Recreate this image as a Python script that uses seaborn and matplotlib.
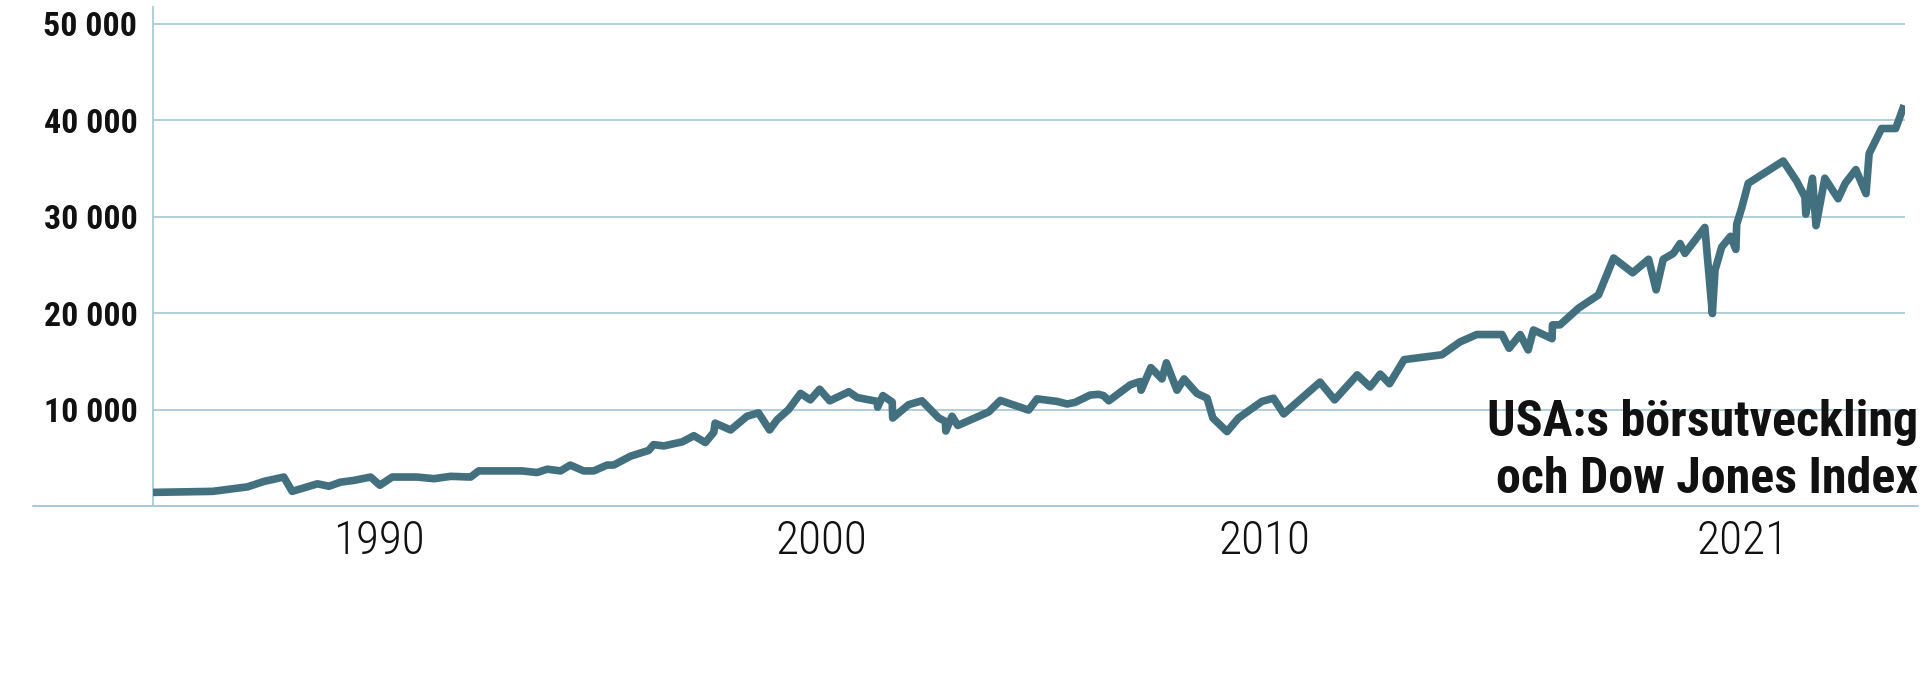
import os
import matplotlib
matplotlib.use("Agg")
import matplotlib.pyplot as plt
from matplotlib import font_manager
from matplotlib.font_manager import FontProperties
import seaborn as sns
import pandas as pd

# ---- data ----
years = [1984.90, 1986.25, 1987.04, 1987.41, 1987.86, 1988.05, 1988.62, 1988.88, 1989.14, 1989.44,
         1989.82, 1990.03, 1990.31, 1990.87, 1991.25, 1991.63, 1992.08, 1992.26, 1993.24, 1993.58,
         1993.81, 1994.11, 1994.33, 1994.63, 1994.86, 1995.16, 1995.31, 1995.69, 1996.10, 1996.21,
         1996.44, 1996.86, 1997.12, 1997.38, 1997.57, 1997.60, 1997.95, 1998.32, 1998.58, 1998.83,
         1999.00, 1999.26, 1999.53, 1999.75, 1999.96, 2000.19, 2000.62, 2000.81, 2001.26, 2001.27,
         2001.39, 2001.60, 2001.61, 2001.97, 2002.27, 2002.65, 2002.80, 2002.81, 2002.95, 2003.08,
         2003.78, 2004.04, 2004.68, 2004.87, 2005.32, 2005.55, 2005.73, 2006.07, 2006.26, 2006.37,
         2006.49, 2006.98, 2007.20, 2007.22, 2007.44, 2007.69, 2007.79, 2008.03, 2008.19, 2008.48,
         2008.71, 2008.84, 2009.16, 2009.42, 2009.95, 2010.21, 2010.44, 2011.26, 2011.59, 2012.10,
         2012.39, 2012.62, 2012.83, 2013.16, 2014.01, 2014.42, 2014.80, 2015.37, 2015.53, 2015.78,
         2015.96, 2016.08, 2016.50, 2016.51, 2016.68, 2017.10, 2017.55, 2017.89, 2018.32, 2018.68,
         2018.85, 2019.01, 2019.24, 2019.39, 2019.50, 2019.95, 2020.12, 2020.18, 2020.33, 2020.53,
         2020.65, 2020.67, 2020.78, 2020.93, 2021.72, 2022.02, 2022.21, 2022.23, 2022.38, 2022.46,
         2022.66, 2022.96, 2023.12, 2023.36, 2023.59, 2023.66, 2023.94, 2024.26, 2024.45]
dow = [1410, 1516, 1983, 2545, 3001, 1516, 2301, 2047, 2471, 2651,
       3001, 2153, 3001, 3001, 2831, 3075, 3001, 3637, 3637, 3468,
       3817, 3637, 4242, 3637, 3637, 4242, 4242, 5164, 5758, 6362,
       6225, 6649, 7285, 6574, 7635, 8589, 7879, 9300, 9650, 7879,
       8939, 10000, 11670, 11000, 12100, 10900, 11840, 11240, 10840, 10240,
       11440, 10770, 9119, 10500, 10900, 9119, 8770, 7773, 9300, 8345,
       9756, 10940, 9940, 11100, 10840, 10570, 10740, 11500, 11570, 11440,
       10900, 12570, 12900, 12000, 14340, 13170, 14840, 12000, 13170, 11670,
       11170, 9119, 7709, 9119, 10840, 11170, 9544, 12840, 11000, 13590,
       12340, 13670, 12670, 15170, 15670, 17000, 17770, 17770, 16340, 17770,
       16170, 18240, 17340, 18770, 18770, 20510, 21880, 25700, 24170, 25570,
       22400, 25570, 26180, 27200, 26180, 28870, 19940, 24440, 26830, 27950,
       26590, 29210, 30850, 33440, 35750, 33690, 32020, 30240, 33970, 29050,
       33970, 31840, 33440, 34860, 32370, 36520, 39120, 39120, 41530]

x_tick_pos = [1990, 2000, 2010, 2020.8]
x_tick_labels = ["1990", "2000", "2010", "2021"]
y_ticks = [10000, 20000, 30000, 40000, 50000]
y_tick_labels = ["10 000", "20 000", "30 000", "40 000", "50 000"]
title_lines = ["USA:s börsutveckling", "och Dow Jones Index"]

# ---- style ----
LINE = "#43707f"
GRID = "#abcad8"
TEXT = "#111111"

sns.set_theme(style="white")
plt.rcParams['font.family'] = ['DejaVu Sans']


def pick_font(patterns, fallback_weight):
    files = [f.fname for f in font_manager.fontManager.ttflist]
    for p in patterns:
        for fn in files:
            if os.path.basename(fn).lower().replace(" ", "").startswith(p.lower()):
                return FontProperties(fname=fn)
    return FontProperties(family="DejaVu Sans", stretch="condensed", weight=fallback_weight)


HEAVY_PATTERNS = ["RobotoCondensed-ExtraBold.", "RobotoCondensed-Black.", "RobotoCondensed-Bold.",
                  "LiberationSansNarrow-Bold.", "OpenSans_Condensed-Bold.", "OpenSansCondensed-Bold.",
                  "DejaVuSansCondensed-Bold.", "LiberationSans-Bold."]
REG_PATTERNS = ["RobotoCondensed-Light.", "LiberationSansNarrow-Regular.", "RobotoCondensed-Regular.",
                "OpenSans_Condensed-Light.", "OpenSansCondensed-Light.",
                "DejaVuSansCondensed.", "LiberationSans-Regular."]
fp_heavy = pick_font(HEAVY_PATTERNS, "heavy")
fp_reg = pick_font(REG_PATTERNS, "normal")

W, H = 1920, 685
fig = plt.figure(figsize=(W / 100, H / 100), dpi=100)
left_px, right_px, top_px, bottom_px = 152.7, 1905, 7.3, 506
ax = fig.add_axes([left_px / W, 1 - bottom_px / H, (right_px - left_px) / W, (bottom_px - top_px) / H])

df = pd.DataFrame({"year": years, "value": dow})
sns.lineplot(data=df, x="year", y="value", sort=False, estimator=None, ax=ax,
             color=LINE, linewidth=5.5, solid_capstyle="butt", solid_joinstyle="round", zorder=3)

ax.set_xlim(1984.9, 2024.47)
ax.set_ylim(0, 51680)

ax.set_yticks(y_ticks)
ax.set_yticklabels(y_tick_labels)
ax.set_xticks(x_tick_pos)
ax.set_xticklabels(x_tick_labels)
ax.tick_params(axis="y", length=0, pad=11)
ax.tick_params(axis="x", length=0, pad=9)
ax.set_xlabel("")
ax.set_ylabel("")

ax.grid(axis="y", color=GRID, linewidth=1.3)
ax.grid(axis="x", visible=False)
for s in ["top", "right", "bottom"]:
    ax.spines[s].set_visible(False)
ax.spines["left"].set_color(GRID)
ax.spines["left"].set_linewidth(1.3)

# extended baseline
x0 = (33 - left_px) / (right_px - left_px)
x1 = (1918 - left_px) / (right_px - left_px)
ax.axhline(0, xmin=x0, xmax=x1, color=GRID, linewidth=1.5, clip_on=False, zorder=2)

# title block
t1 = fig.text(1918 / W, 1 - 436 / H, title_lines[0], ha="right", va="baseline", color=TEXT)
t2 = fig.text(1918 / W, 1 - 493 / H, title_lines[1], ha="right", va="baseline", color=TEXT)


def fit(texts, fp, target_w, max_size):
    """size texts so that the widest one is about target_w pixels, capped at max_size pt"""
    for t in texts:
        t.set_fontproperties(fp.copy())
        t.set_fontsize(max_size)
        t.set_color(TEXT)
    fig.canvas.draw()
    r = fig.canvas.get_renderer()
    widest = max(t.get_window_extent(renderer=r).width for t in texts)
    size = min(max_size, max_size * target_w / widest)
    for t in texts:
        t.set_fontsize(size)


fit([t1, t2], fp_heavy, 430, 40)
fit(ax.get_yticklabels(), fp_heavy, 94, 26)
fit(ax.get_xticklabels(), fp_reg, 92, 44)

fig.savefig("out.png", dpi=100, facecolor="white")
